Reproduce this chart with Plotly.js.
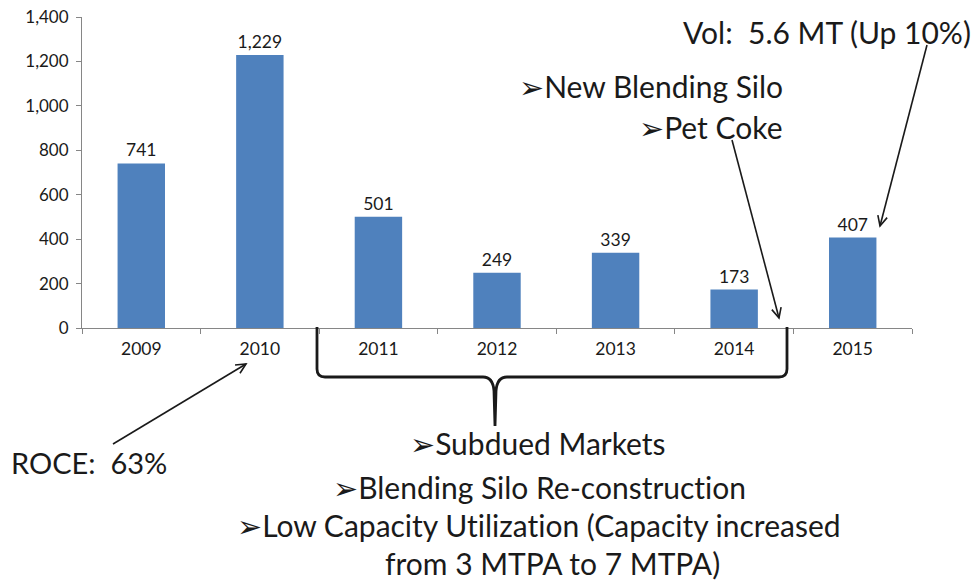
<!DOCTYPE html>
<html><head><meta charset="utf-8">
<script src="https://cdn.plot.ly/plotly-3.0.1.min.js"></script>
<style>body{margin:0;background:#fff}#chart{width:980px;height:583px}
text{font-variant-ligatures:none;font-feature-settings:"liga" 0}</style>
</head><body><div id="chart"></div>
<script>
const years = ['2009','2010','2011','2012','2013','2014','2015'];
const values = [741, 1229, 501, 249, 339, 173, 407];
const valueLabels = ['741','1,229','501','249','339','173','407'];
const yTicks = [0,200,400,600,800,1000,1200,1400];

const W = 980, H = 583;
const M = {l:82, r:68, t:17, b:255};
const PW = W - M.l - M.r, PH = H - M.t - M.b;
const px = x => (x - M.l) / PW;
const py = y => (H - M.b - y) / PH;

const FONT = 'Lato, "Liberation Sans", sans-serif';
const shapes = [];
function arrow(x0,y0,x1,y1){
  shapes.push({type:'line',xref:'paper',yref:'paper',x0:px(x0),y0:py(y0),x1:px(x1),y1:py(y1),line:{color:'#1a1a1a',width:1.6}});
  const a = Math.atan2(y1-y0,x1-x0), L=11, s=0.45;
  const ax = x1 - L*Math.cos(a-s), ay = y1 - L*Math.sin(a-s);
  const bx = x1 - L*Math.cos(a+s), by = y1 - L*Math.sin(a+s);
  shapes.push({type:'path',xref:'paper',yref:'paper',
    path:`M${px(ax)},${py(ay)} L${px(x1)},${py(y1)} L${px(bx)},${py(by)}`,
    line:{color:'#1a1a1a',width:1.6}});
}
arrow(927,45,880,226);
arrow(732,140,779,318);
arrow(113,444,246,364);

// brace
(function(){
  const xl=317, xr=787, xc=495, yt=327, yh=377, yb=426, r=8;
  const P=(x,y)=>`${px(x)},${py(y)}`;
  const path = `M${P(xl,yt)} L${P(xl,yh-r)} Q${P(xl,yh)} ${P(xl+r,yh)} L${P(xc-12,yh)} Q${P(xc-2,yh)} ${P(xc-1,yh+14)} L${P(xc,yb)} `+
               `M${P(xr,yt)} L${P(xr,yh-r)} Q${P(xr,yh)} ${P(xr-r,yh)} L${P(xc+12,yh)} Q${P(xc+2,yh)} ${P(xc+1,yh+14)} L${P(xc,yb)}`;
  shapes.push({type:'path',xref:'paper',yref:'paper',path:path,line:{color:'#1a1a1a',width:2.8}});
})();

const B = '<span style="font-family:\'DejaVu Sans\'">➢</span>';
const T = (text,x,y,xanchor,size) => ({text:text,xref:'paper',yref:'paper',x:px(x),y:py(y),xanchor:xanchor||'center',yanchor:'middle',showarrow:false,font:{family:FONT,size:size||30,color:'#1a1a1a'}});
const annotations = [
  T('Vol:  5.6 MT (Up 10%)',973,32,'right'),
  T(B+'New Blending Silo',785,87,'right'),
  T(B+'Pet Coke',785,127,'right'),
  T('ROCE:  63%',9,463,'left',29),
  T(B+'Subdued Markets',538,443),
  T(B+'Blending Silo Re-construction',539,487),
  T(B+'Low Capacity Utilization (Capacity increased',539,525),
  T('from 3 MTPA to 7 MTPA)',552,563)
];

const trace = {
  type:'bar', x:years, y:values, text:valueLabels, textposition:'outside',
  texttemplate:'%{text}', cliponaxis:false,
  textfont:{family:FONT,size:17.5,color:'#1a1a1a'},
  marker:{color:'#4f81bd'}, width:0.4, hoverinfo:'skip'
};

const layout = {
  width:W, height:H, margin:M, paper_bgcolor:'#fff', plot_bgcolor:'#fff',
  showlegend:false, font:{family:FONT},
  xaxis:{type:'category', showline:true, linecolor:'#868686', linewidth:1,
    ticks:'outside', tickson:'boundaries', ticklen:5, tickcolor:'#868686',
    tickfont:{family:FONT,size:17.5,color:'#1a1a1a'}, ticklabelstandoff:5, showgrid:false, zeroline:false},
  yaxis:{range:[0,1400], tickvals:yTicks, tickformat:',d', showline:true, linecolor:'#868686',
    ticks:'outside', ticklen:5, tickcolor:'#868686', showgrid:false, zeroline:false,
    tickfont:{family:FONT,size:17,color:'#1a1a1a'}, ticklabelstandoff:4},
  separators:'.,',
  shapes:shapes, annotations:annotations
};
Plotly.newPlot('chart',[trace],layout,{staticPlot:true,displayModeBar:false});
</script></body></html>
